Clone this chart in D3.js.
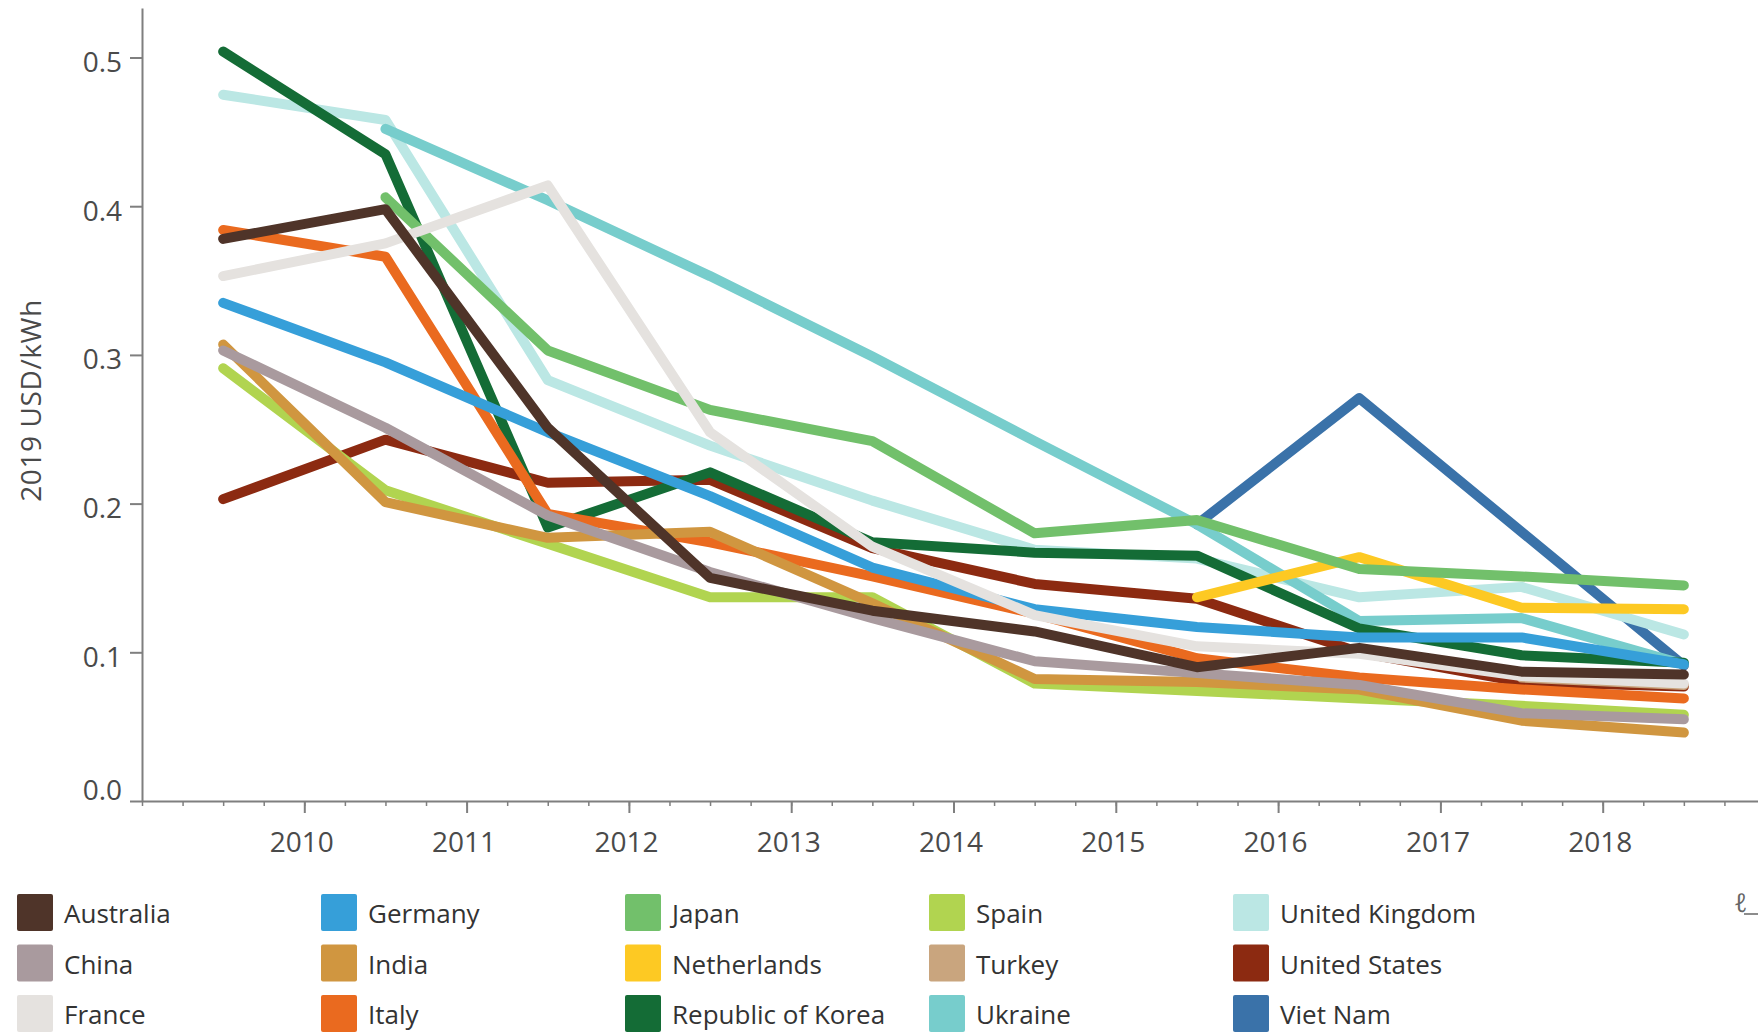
<!DOCTYPE html>
<html>
<head>
<meta charset="utf-8">
<script src="https://cdn.jsdelivr.net/npm/d3@7"></script>
<style>
  body { margin: 0; background: #fff; }
  text { font-family: 'Open Sans', sans-serif; }
</style>
</head>
<body>
<div id="vis"></div>
<script>
const WIDTH = 1758;
const HEIGHT = 1035;

// one value per year, drawn at mid-year
const YEARS = [2009, 2010, 2011, 2012, 2013, 2014, 2015, 2016, 2017, 2018];
const TICK_YEARS = [2010, 2011, 2012, 2013, 2014, 2015, 2016, 2017, 2018];
const Y_TICKS = [0, 0.1, 0.2, 0.3, 0.4, 0.5];

const COUNTRIES = ['Australia', 'China', 'France', 'Germany', 'India', 'Italy', 'Japan', 'Netherlands',
  'Republic of Korea', 'Spain', 'Turkey', 'Ukraine', 'United Kingdom', 'United States', 'Viet Nam'];

const COLORS = ['#4f3429', '#a99a9e', '#e5e2df', '#369fd9', '#d09640', '#ea6a1f', '#72c06b', '#fdc923',
  '#146c36', '#b1d450', '#c9a57e', '#77cdcc', '#bbe7e4', '#8c2a11', '#3a72a9'];

const australia   = [0.378, 0.398, 0.251, 0.150, 0.128, 0.114, 0.090, 0.103, 0.087, 0.085];
const china       = [0.303, 0.251, 0.192, 0.154, 0.123, 0.094, 0.086, 0.078, 0.059, 0.055];
const france      = [0.353, 0.375, 0.414, 0.248, 0.171, 0.125, 0.104, 0.099, 0.084, 0.079];
const germany     = [0.335, 0.295, 0.248, 0.205, 0.157, 0.129, 0.117, 0.110, 0.110, 0.092];
const india       = [0.307, 0.201, 0.177, 0.181, 0.133, 0.082, 0.080, 0.075, 0.054, 0.046];
const italy       = [0.384, 0.366, 0.193, 0.174, 0.151, 0.126, 0.096, 0.083, 0.075, 0.069];
const japan       = [null, 0.406, 0.303, 0.263, 0.242, 0.180, 0.189, 0.156, 0.151, 0.145];
const netherlands = [null, null, null, null, null, null, 0.137, 0.164, 0.130, 0.129];
const korea       = [0.504, 0.435, 0.184, 0.221, 0.174, 0.167, 0.165, 0.116, 0.098, 0.093];
const spain       = [0.291, 0.209, 0.173, 0.137, 0.137, 0.079, 0.074, 0.069, 0.064, 0.058];
const turkey      = [null, null, null, null, null, null, null, null, 0.083, 0.078];
const ukraine     = [null, 0.452, 0.404, 0.353, 0.299, 0.242, 0.186, 0.121, 0.123, 0.092];
const uk          = [0.475, 0.458, 0.283, 0.239, 0.202, 0.169, 0.163, 0.137, 0.144, 0.112];
const us          = [0.203, 0.243, 0.214, 0.216, 0.170, 0.146, 0.136, 0.100, 0.080, 0.077];
const vietnam     = [null, null, null, null, null, null, 0.186, 0.271, 0.181, 0.091];

const VALUES = [australia, china, france, germany, india, italy, japan, netherlands,
  korea, spain, turkey, ukraine, uk, us, vietnam];

const series = COUNTRIES.map((name, i) => ({
  name: name,
  color: COLORS[i],
  points: YEARS.map((y, j) => ({ year: y, v: VALUES[i][j] }))
}));

const svg = d3.select('#vis').append('svg')
  .attr('width', WIDTH)
  .attr('height', HEIGHT)
  .style('display', 'block')
  .style('background', '#fff');

const x = d3.scaleLinear().domain([2009, 2019]).range([142, 1765]);
const y = d3.scaleLinear().domain([0, 0.5333]).range([801, 8]);

// minor ticks every quarter year
svg.append('g')
  .attr('transform', `translate(0,${y(0)})`)
  .call(d3.axisBottom(x).tickValues(d3.range(2009, 2019.01, 0.25)).tickSize(5).tickSizeOuter(0).tickFormat(''))
  .call(g => g.select('.domain').remove())
  .call(g => g.selectAll('line').attr('stroke', '#7f7f7f').attr('stroke-width', 1.5));

const xAxis = svg.append('g')
  .attr('transform', `translate(0,${y(0)})`)
  .call(d3.axisBottom(x).tickValues(TICK_YEARS).tickSize(12).tickSizeOuter(0).tickPadding(19).tickFormat(d3.format('d')));

xAxis.selectAll('.tick text').attr('dx', -3);

const yAxis = svg.append('g')
  .attr('transform', `translate(${x(2009)},0)`)
  .call(d3.axisLeft(y).tickValues(Y_TICKS).tickSize(12).tickSizeOuter(0).tickPadding(8).tickFormat(d3.format('.1f')));

// the 0.0 label sits a little above the x axis
yAxis.selectAll('.tick text').attr('dy', d => d === 0 ? '-0.05em' : '0.5em');

[xAxis, yAxis].forEach(g => {
  g.select('.domain').attr('stroke', '#7f7f7f').attr('stroke-width', 2);
  g.selectAll('.tick line').attr('stroke', '#7f7f7f').attr('stroke-width', 2);
  g.selectAll('.tick text')
    .attr('fill', '#4a4a4a')
    .style('font-size', '28px')
    .style('font-family', "'Open Sans', sans-serif");
});

svg.append('text')
  .attr('transform', `translate(30,${(y(0) + y(0.5333)) / 2 - 4}) rotate(-90)`)
  .attr('text-anchor', 'middle')
  .attr('dominant-baseline', 'central')
  .attr('fill', '#4a4a4a')
  .style('font-size', '28px')
  .style('letter-spacing', '0.6px')
  .text('2019 USD/kWh');

const line = d3.line()
  .defined(d => d.v != null)
  .x(d => x(d.year + 0.5))
  .y(d => y(d.v));

// last country in the legend is drawn first
svg.append('g')
  .selectAll('path')
  .data(series.slice().reverse())
  .join('path')
  .attr('d', d => line(d.points))
  .attr('fill', 'none')
  .attr('stroke', d => d.color)
  .attr('stroke-width', 10)
  .attr('stroke-linecap', 'round')
  .attr('stroke-linejoin', 'round');

// legend, filled column by column
const legend = svg.append('g')
  .selectAll('g')
  .data(series)
  .join('g')
  .attr('transform', (d, i) => `translate(${17 + Math.floor(i / 3) * 304},${894 + (i % 3) * 50.5})`);

legend.append('rect')
  .attr('width', 36)
  .attr('height', 37)
  .attr('rx', 2)
  .attr('fill', d => d.color);

legend.append('text')
  .attr('x', 47)
  .attr('y', 19)
  .attr('dominant-baseline', 'central')
  .attr('fill', '#333')
  .style('font-size', '26px')
  .text(d => d.name);

// cut-off glyph at the right edge
svg.append('text')
  .attr('x', 1734)
  .attr('y', 912)
  .attr('fill', '#666')
  .style('font-size', '26px')
  .text('ℓ');
svg.append('line')
  .attr('x1', 1744).attr('x2', 1758)
  .attr('y1', 914).attr('y2', 914)
  .attr('stroke', '#666')
  .attr('stroke-width', 1.5);
</script>
</body>
</html>
